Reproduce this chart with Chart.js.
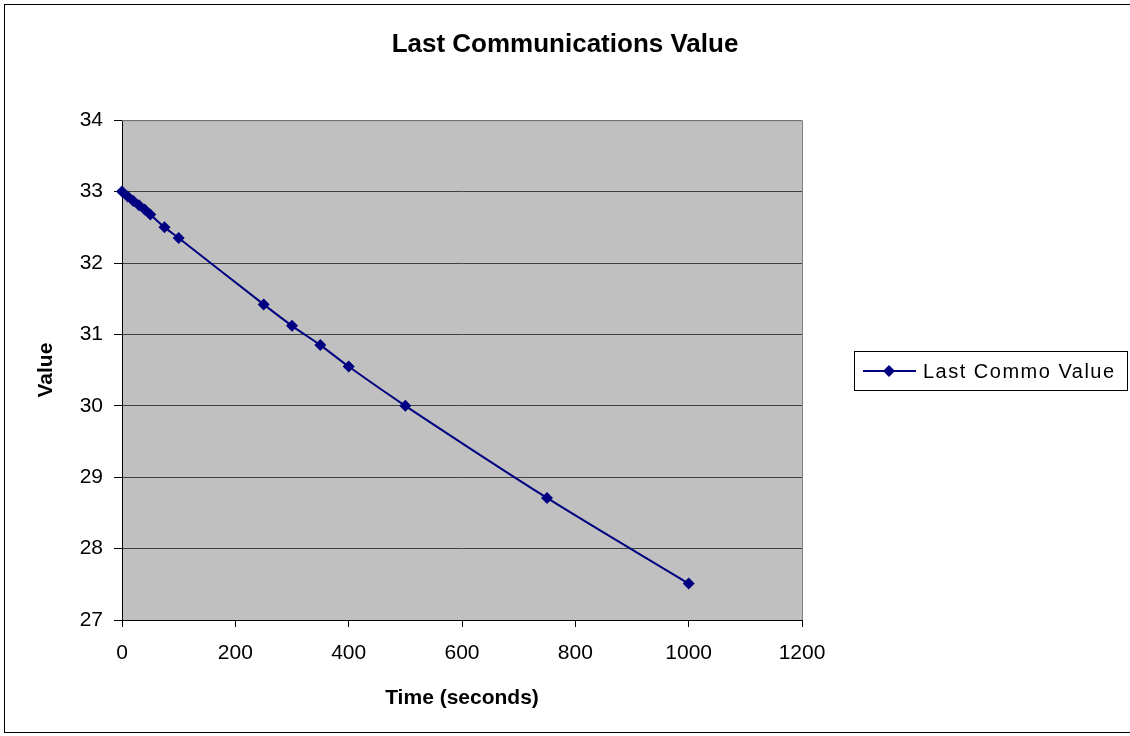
<!DOCTYPE html>
<html>
<head>
<meta charset="utf-8">
<title>Last Communications Value</title>
<script src="https://cdn.jsdelivr.net/npm/chart.js@4/dist/chart.umd.min.js"></script>
<style>
  html, body { margin: 0; padding: 0; background: #fff; }
  #wrap { width: 1130px; height: 736px; }
</style>
</head>
<body>
<div id="wrap"><canvas id="chart" width="1130" height="736"></canvas></div>
<script>
// data
var times = [0, 10, 20, 30, 40, 50, 75, 100, 250, 300, 350, 400, 500, 750, 1000];
var values = [33.0, 32.93, 32.87, 32.81, 32.75, 32.68, 32.5, 32.35, 31.42, 31.12, 30.85, 30.55, 30.0, 28.71, 27.51];
var seriesName = "Last Commo Value";
var chartTitle = "Last Communications Value";
var xTitle = "Time (seconds)";
var yTitle = "Value";

var navy = "#000080";
var fontFamily = "'Liberation Sans', Arial, sans-serif";

var points = [];
for (let i = 0; i < times.length; i++) {
  points.push({ x: times[i], y: values[i] });
}

// grey plot background, plot frame, outer border and the boxed legend
var decor = {
  id: "decor",
  beforeDraw(chart) {
    let ctx = chart.ctx;
    let a = chart.chartArea;
    ctx.save();
    ctx.fillStyle = "#fff";
    ctx.fillRect(0, 0, chart.width, chart.height);
    ctx.fillStyle = "#c0c0c0";
    ctx.fillRect(a.left, a.top, a.right - a.left, a.bottom - a.top);
    ctx.restore();
  },
  afterDatasetsDraw(chart) {
    let ctx = chart.ctx;
    let a = chart.chartArea;
    ctx.save();
    // top and right edge of the plot
    ctx.strokeStyle = "#808080";
    ctx.lineWidth = 1;
    ctx.beginPath();
    ctx.moveTo(a.left, a.top + 0.5);
    ctx.lineTo(a.right + 0.5, a.top + 0.5);
    ctx.lineTo(a.right + 0.5, a.bottom);
    ctx.stroke();

    // outer chart border
    ctx.strokeStyle = "#000";
    ctx.strokeRect(4.5, 4.5, 1140, 728);

    // legend box
    let bx = 854.5, by = 351.5, bw = 273, bh = 39;
    ctx.fillStyle = "#fff";
    ctx.fillRect(bx, by, bw, bh);
    ctx.strokeStyle = "#000";
    ctx.strokeRect(bx, by, bw, bh);
    let cy = by + bh / 2;
    ctx.strokeStyle = navy;
    ctx.lineWidth = 2;
    ctx.beginPath();
    ctx.moveTo(863, cy);
    ctx.lineTo(916, cy);
    ctx.stroke();
    ctx.fillStyle = navy;
    ctx.beginPath();
    ctx.moveTo(889, cy - 6);
    ctx.lineTo(895, cy);
    ctx.lineTo(889, cy + 6);
    ctx.lineTo(883, cy);
    ctx.closePath();
    ctx.fill();
    ctx.fillStyle = "#000";
    ctx.font = "20px " + fontFamily;
    ctx.textBaseline = "middle";
    ctx.textAlign = "left";
    if ("letterSpacing" in ctx) ctx.letterSpacing = "1.5px";
    ctx.fillText(chart.data.datasets[0].label, 923, cy + 1);
    ctx.restore();
  }
};

var canvas = document.getElementById("chart");
var myChart = new Chart(canvas, {
  type: "scatter",
  data: {
    datasets: [
      {
        label: seriesName,
        data: points,
        showLine: true,
        borderColor: navy,
        backgroundColor: navy,
        borderWidth: 2,
        tension: 0.3,
        pointStyle: "rectRot",
        pointRadius: 6,
        pointBorderWidth: 0,
        pointBackgroundColor: navy,
        clip: false
      }
    ]
  },
  options: {
    responsive: false,
    animation: false,
    devicePixelRatio: 1,
    layout: { padding: 0 },
    plugins: {
      legend: { display: false },
      tooltip: { enabled: false },
      title: {
        display: true,
        text: chartTitle,
        color: "#000",
        font: { family: fontFamily, size: 26, weight: "bold", lineHeight: 1.2 },
        padding: { top: 29, bottom: 60 }
      }
    },
    scales: {
      x: {
        type: "linear",
        min: 0,
        max: 1200,
        ticks: {
          stepSize: 200,
          color: "#000",
          padding: 14,
          maxRotation: 0,
          font: { family: fontFamily, size: 21 },
          callback: function (v) { return String(v); }
        },
        grid: {
          drawOnChartArea: false,
          drawTicks: true,
          tickLength: 7,
          tickColor: "#000"
        },
        border: { color: "#000", width: 1 },
        title: {
          display: true,
          text: xTitle,
          color: "#000",
          font: { family: fontFamily, size: 21, weight: "bold", lineHeight: 1.2 },
          padding: { top: 0, bottom: 25 }
        },
        afterFit(scale) { scale.height = 116; }
      },
      y: {
        type: "linear",
        min: 27,
        max: 34,
        ticks: {
          stepSize: 1,
          color: "#000",
          padding: 11,
          font: { family: fontFamily, size: 21 }
        },
        grid: {
          color: "#404040",
          lineWidth: 1,
          tickLength: 8,
          tickColor: "#000"
        },
        border: { color: "#000", width: 1 },
        title: {
          display: true,
          text: yTitle,
          color: "#000",
          font: { family: fontFamily, size: 21, weight: "bold", lineHeight: 1.2 },
          padding: { top: 34, bottom: 0 }
        },
        afterFit(scale) { scale.width = 122; }
      },
      // empty right-hand axis that reserves the space the legend sits in
      side: {
        type: "linear",
        position: "right",
        display: true,
        min: 27,
        max: 34,
        ticks: { display: false },
        grid: { display: false, drawTicks: false },
        border: { display: false },
        afterFit(scale) { scale.width = 328; }
      }
    }
  },
  plugins: [decor]
});
</script>
</body>
</html>
